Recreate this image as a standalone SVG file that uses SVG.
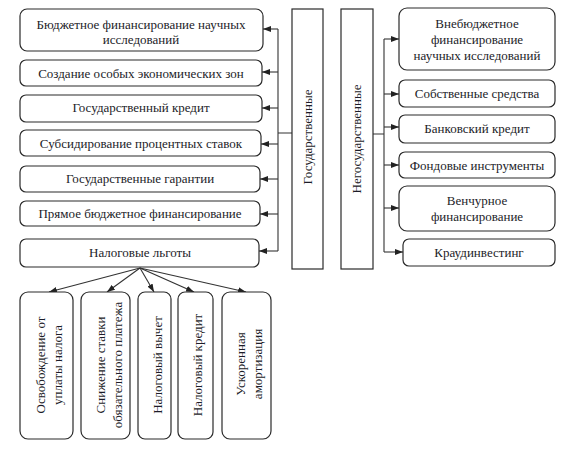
<svg xmlns="http://www.w3.org/2000/svg" width="585" height="452" viewBox="0 0 585 452">
<style>
text{font-family:"Liberation Serif","Times New Roman",serif;font-size:13px;fill:#1c1c28;text-anchor:middle}
.b{fill:#fff;stroke:#2a2a2a;stroke-width:1.2}
.c{fill:none;stroke:#333;stroke-width:1.1}
</style>
<defs>
<marker id="a" viewBox="0 0 8 6" refX="8" refY="3" markerWidth="8" markerHeight="6" markerUnits="userSpaceOnUse" orient="auto">
<path d="M0,0L8,3L0,6z" fill="#222"/>
</marker>
</defs>
<rect width="585" height="452" fill="#fff"/>
<g id="connectors" class="c">
<path d="M278,29V251M292,133H278"/>
<path d="M278,29H263" marker-end="url(#a)"/>
<path d="M278,72H262" marker-end="url(#a)"/>
<path d="M278,108H262" marker-end="url(#a)"/>
<path d="M278,144H261" marker-end="url(#a)"/>
<path d="M278,179H260" marker-end="url(#a)"/>
<path d="M278,214H260" marker-end="url(#a)"/>
<path d="M278,251H259" marker-end="url(#a)"/>
<path d="M373,134H384M384,39V252"/>
<path d="M384,39H399" marker-end="url(#a)"/>
<path d="M384,94H399" marker-end="url(#a)"/>
<path d="M384,127H399" marker-end="url(#a)"/>
<path d="M384,165H399" marker-end="url(#a)"/>
<path d="M384,208H399" marker-end="url(#a)"/>
<path d="M384,252H403" marker-end="url(#a)"/>
<path d="M140,268L49,292" marker-end="url(#a)"/>
<path d="M140,268L107,292" marker-end="url(#a)"/>
<path d="M140,268L154,292" marker-end="url(#a)"/>
<path d="M140,268L194,292" marker-end="url(#a)"/>
<path d="M140,268L246,292" marker-end="url(#a)"/>
</g>
<g id="n1"><rect class="b" x="20" y="9" width="243" height="42" rx="7"/><text x="141" y="29">Бюджетное финансирование научных</text><text x="141" y="44">исследований</text></g>
<g id="n2"><rect class="b" x="20" y="60" width="242" height="26" rx="6"/><text x="141" y="78">Создание особых экономических зон</text></g>
<g id="n3"><rect class="b" x="20" y="95" width="242" height="27" rx="6"/><text x="141" y="112">Государственный кредит</text></g>
<g id="n4"><rect class="b" x="20" y="130" width="241" height="26" rx="6"/><text x="141" y="148">Субсидирование процентных ставок</text></g>
<g id="n5"><rect class="b" x="20" y="166" width="240" height="26" rx="6"/><text x="140" y="183">Государственные гарантии</text></g>
<g id="n6"><rect class="b" x="20" y="201" width="240" height="25" rx="6"/><text x="140" y="218">Прямое бюджетное финансирование</text></g>
<g id="n7"><rect class="b" x="20" y="239" width="239" height="28" rx="6"/><text x="140" y="257">Налоговые льготы</text></g>
<g id="gos"><rect class="b" x="292" y="9" width="31" height="260"/><text transform="translate(311.5,137) rotate(-90)">Государственные</text></g>
<g id="negos"><rect class="b" x="341" y="9" width="32" height="260"/><text transform="translate(361,139) rotate(-90)">Негосударственные</text></g>
<g id="r1"><rect class="b" x="399" y="8" width="156" height="62" rx="8"/><text x="477" y="28">Внебюджетное</text><text x="477" y="44">финансирование</text><text x="477" y="60">научных исследований</text></g>
<g id="r2"><rect class="b" x="399" y="80" width="156" height="27" rx="6"/><text x="477" y="98">Собственные средства</text></g>
<g id="r3"><rect class="b" x="399" y="115" width="156" height="28" rx="6"/><text x="477" y="133">Банковский кредит</text></g>
<g id="r4"><rect class="b" x="399" y="152" width="156" height="26" rx="6"/><text x="477" y="170">Фондовые инструменты</text></g>
<g id="r5"><rect class="b" x="399" y="186" width="156" height="45" rx="8"/><text x="477" y="205">Венчурное</text><text x="477" y="221">финансирование</text></g>
<g id="r6"><rect class="b" x="403" y="239" width="152" height="27" rx="6"/><text x="479" y="257">Краудинвестинг</text></g>
<g id="t1"><rect class="b" x="20" y="292" width="53" height="147" rx="8"/><text transform="translate(44.5,365) rotate(-90)">Освобождение от</text><text transform="translate(61.5,365) rotate(-90)">уплаты налога</text></g>
<g id="t2"><rect class="b" x="81" y="292" width="49" height="147" rx="8"/><text transform="translate(104.5,365) rotate(-90)">Снижение ставки</text><text transform="translate(121.5,365) rotate(-90)">обязательного платежа</text></g>
<g id="t3"><rect class="b" x="138" y="292" width="33" height="147" rx="7"/><text transform="translate(161.5,365) rotate(-90)">Налоговый вычет</text></g>
<g id="t4"><rect class="b" x="178" y="292" width="35" height="147" rx="7"/><text transform="translate(201.5,365) rotate(-90)">Налоговый кредит</text></g>
<g id="t5"><rect class="b" x="222" y="292" width="49" height="147" rx="8"/><text transform="translate(244.5,364) rotate(-90)">Ускоренная</text><text transform="translate(261.5,364) rotate(-90)">амортизация</text></g>
</svg>
